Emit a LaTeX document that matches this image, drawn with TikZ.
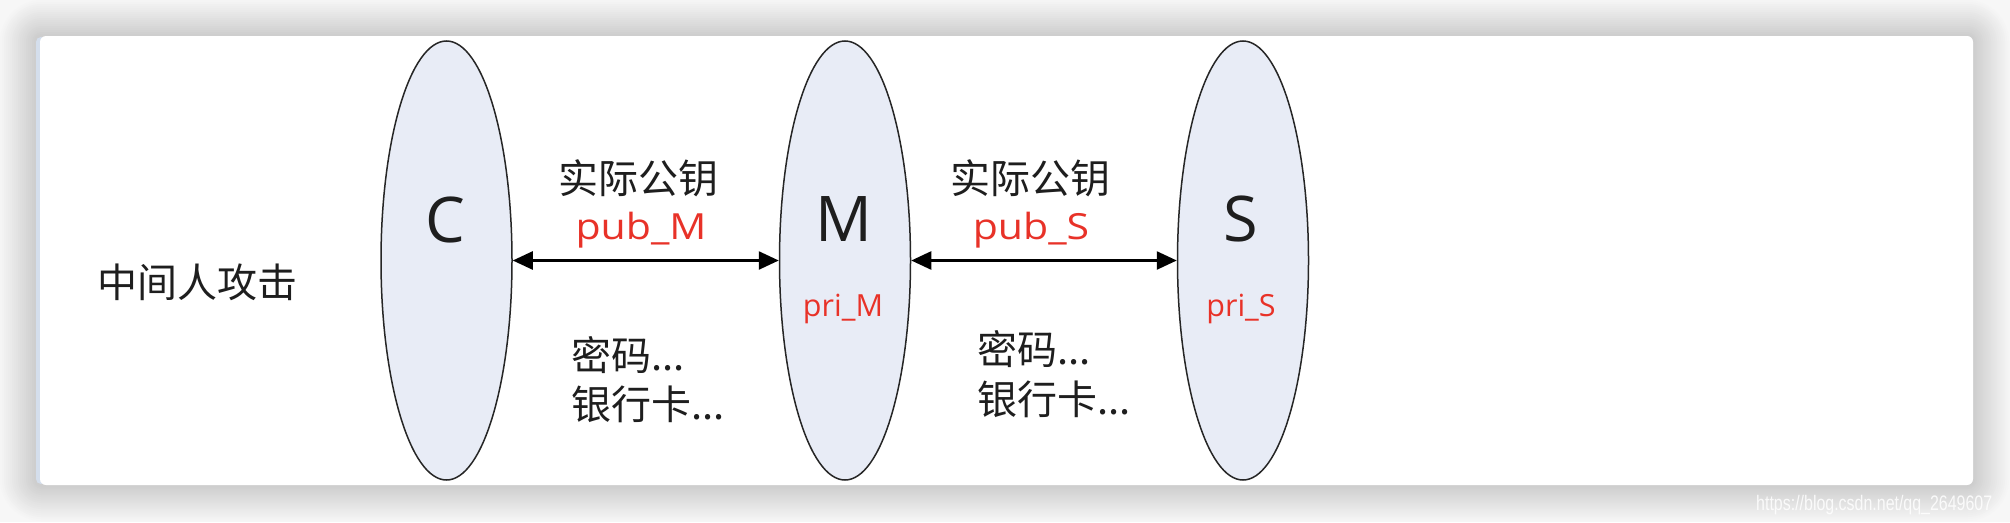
\documentclass[tikz,border=0pt]{standalone}
\usepackage{fontspec}
\setmainfont{Open Sans}
\newfontfamily\cjk{Noto Sans CJK SC}
\newfontfamily\latw[FakeStretch=1.14]{Open Sans}
\newfontfamily\wmfont[FakeStretch=0.76]{Liberation Sans}
\usetikzlibrary{shapes.geometric,arrows.meta}
\definecolor{ellfill}{RGB}{232,236,246}
\definecolor{keyred}{RGB}{232,50,40}
\definecolor{txt}{RGB}{30,30,30}
\definecolor{strip}{RGB}{212,222,236}
\begin{document}
\begin{tikzpicture}[x=1pt,y=-1pt,
  ell/.style={ellipse, draw=black!85, line width=1.5pt, fill=ellfill, minimum width=131pt, minimum height=439pt, inner sep=0pt},
  bigl/.style={font=\fontsize{63}{63}\selectfont, text=txt, inner sep=0pt},
  pril/.style={font=\fontsize{30.5}{30.5}\selectfont, text=keyred, inner sep=0pt},
  publ/.style={font=\latw\fontsize{36}{36}\selectfont, text=keyred, inner sep=0pt},
  cjkl/.style={font=\cjk\fontsize{40}{50}\selectfont, text=txt, inner sep=0pt},
  conn/.style={{Triangle[length=20pt,width=18pt]}-{Triangle[length=20pt,width=18pt]}, line width=2.5pt, black},
]
\useasboundingbox (0,0) rectangle (2010,522);
\fill[black!3] (0,0) rectangle (2010,522);
% shadow
\foreach \i in {18,17,...,1}{
  \pgfmathsetmacro{\k}{3+(19-\i)*0.9}
  \fill[black!\k, rounded corners={6+2*\i}] ({36-2*\i},{36-2*\i}) rectangle ({1973+2*\i},{485+2*\i});
}
% card
\fill[strip, rounded corners=5] (36,37) rectangle (46,484);
\fill[white, rounded corners=6] (40,36) rectangle (1973,485);

% ellipses
\node[ell] (c) at (446.5,260.5) {};
\node[ell] (m) at (845,260.5) {};
\node[ell] (s) at (1243,260.5) {};
\node[bigl] (cl) at (445,219.5) {C};
\node[bigl] (ml) at (844,219) {M};
\node[bigl] (sl) at (1241,219) {S};
\node[pril] (prim) at (843,308.5) {pri\_M};
\node[pril] (pris) at (1241,308.5) {pri\_S};

% connectors
\draw[conn] (c.east) -- (m.west);
\draw[conn] (m.east) -- (s.west);

% labels
\node[cjkl] (k1) at (638.5,178.5) {实际公钥};
\node[publ] (p1) at (641,230) {pub\_M};
\node[cjkl] (k2) at (1030,178.5) {实际公钥};
\node[publ] (p2) at (1031,230) {pub\_S};

\node[cjkl] (title) at (197,282) {中间人攻击};

\node[cjkl, anchor=base west] (d1a) at (571,370) {密码...};
\node[cjkl, anchor=base west] (d1b) at (571,419) {银行卡...};
\node[cjkl, anchor=base west] (d2a) at (977,364) {密码...};
\node[cjkl, anchor=base west] (d2b) at (977,414) {银行卡...};

% watermark
\node[font=\wmfont\fontsize{21}{21}\selectfont, text=white, opacity=0.85, anchor=base west, inner sep=0pt] (wm) at (1756,510) {https://blog.csdn.net/qq\_2649607};
\end{tikzpicture}
\end{document}
